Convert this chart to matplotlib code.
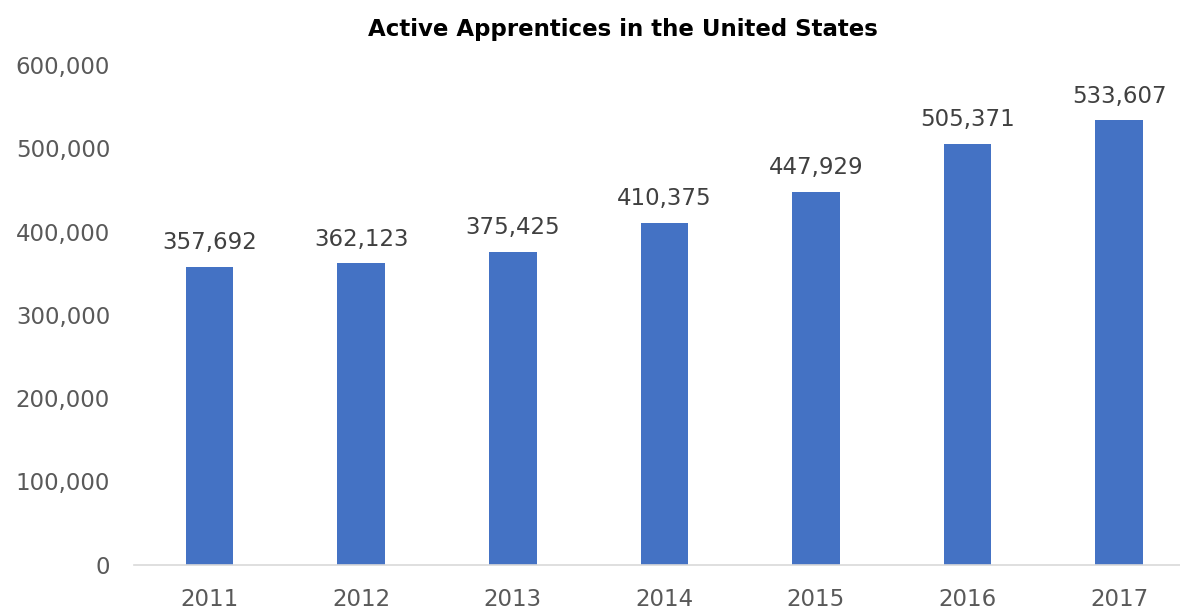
import matplotlib.pyplot as plt
from matplotlib.ticker import FuncFormatter

years = ["2011", "2012", "2013", "2014", "2015", "2016", "2017"]
apprentices = [357692, 362123, 375425, 410375, 447929, 505371, 533607]

plt.rcParams['font.family'] = ['DejaVu Sans']

fig = plt.figure(figsize=(11.8, 6.09), dpi=100)
ax = fig.add_axes([133.7 / 1180, 44.5 / 609, (1195 - 133.7) / 1180, 499.5 / 609])

x = range(len(years))
bars = ax.bar(x, apprentices, width=0.314, color='#4472C4', zorder=2)

for xi, v in zip(x, apprentices):
    ax.annotate(f"{v:,}", (xi, v), xytext=(0, 9), textcoords='offset points',
                ha='center', va='bottom', fontsize=16.5, color='#404040')

ax.set_xlim(-0.5, len(years) - 0.5)
ax.set_ylim(0, 600000)
ax.set_yticks(range(0, 600001, 100000))
ax.yaxis.set_major_formatter(FuncFormatter(lambda v, p: f"{int(v):,}"))
ax.set_xticks(list(x))
ax.set_xticklabels(years)
ax.tick_params(axis='both', length=0, labelsize=16.5, labelcolor='#595959')
ax.tick_params(axis='y', pad=17)
ax.tick_params(axis='x', pad=17)

for s in ['top', 'right', 'left']:
    ax.spines[s].set_visible(False)
ax.spines['bottom'].set_color('#D9D9D9')
ax.spines['bottom'].set_linewidth(1.2)

fig.text(0.528, 0.951, "Active Apprentices in the United States", ha='center', va='center',
         fontsize=16.5, fontweight='bold', color='black')

fig.savefig("out.png", dpi=100)
